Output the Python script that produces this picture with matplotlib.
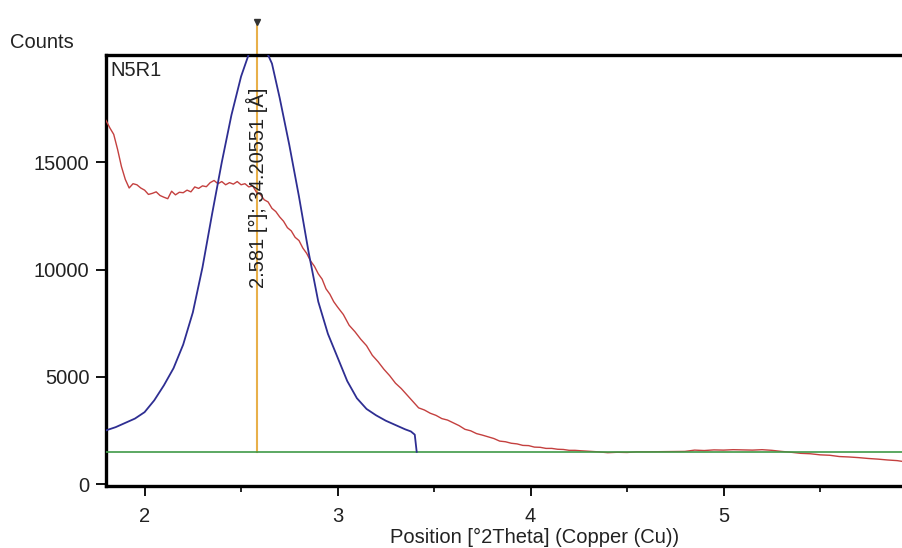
import matplotlib
matplotlib.use("Agg")
import matplotlib.pyplot as plt

plt.rcParams['font.family'] = ['Liberation Sans', 'DejaVu Sans']

# ---- data ----
red_x = [1.80, 1.82, 1.84, 1.86, 1.88, 1.90, 1.92, 1.94, 1.96, 1.98,
         2.00, 2.02, 2.04, 2.06, 2.08, 2.10, 2.12, 2.14, 2.16, 2.18,
         2.20, 2.22, 2.24, 2.26, 2.28, 2.30, 2.32, 2.34, 2.36, 2.38,
         2.40, 2.42, 2.44, 2.46, 2.48, 2.50, 2.52, 2.54, 2.56, 2.58,
         2.60, 2.62, 2.64, 2.66, 2.68, 2.70, 2.72, 2.74, 2.76, 2.78,
         2.80, 2.82, 2.84, 2.86, 2.88, 2.90, 2.92, 2.94, 2.96, 2.98,
         3.00, 3.03, 3.06, 3.09, 3.12, 3.15, 3.18, 3.21, 3.24, 3.27,
         3.30, 3.33, 3.36, 3.39, 3.42, 3.45, 3.48, 3.51, 3.54, 3.57,
         3.60, 3.63, 3.66, 3.69, 3.72, 3.75, 3.78, 3.81, 3.84, 3.87,
         3.90, 3.93, 3.96, 3.99, 4.02, 4.05, 4.08, 4.11, 4.14, 4.17,
         4.20, 4.23, 4.26, 4.30, 4.35, 4.40, 4.45, 4.50, 4.55, 4.60,
         4.70, 4.80, 4.85, 4.90, 4.95, 5.00, 5.05, 5.10, 5.15, 5.20,
         5.25, 5.30, 5.35, 5.40, 5.45, 5.50, 5.55, 5.60, 5.65, 5.70,
         5.75, 5.80, 5.85, 5.90, 5.93]
red_y = [16950, 16600, 16300, 15600, 14800, 14200, 13800, 14000, 13950, 13800,
         13700, 13500, 13550, 13620, 13450, 13370, 13300, 13650, 13480, 13600,
         13580, 13700, 13620, 13850, 13780, 13900, 13860, 14050, 14150, 14000,
         14100, 13950, 14050, 13980, 14100, 13950, 14000, 13850, 13900, 13600,
         13500, 13250, 13150, 12850, 12700, 12450, 12250, 11950, 11800, 11500,
         11350, 11000, 10750, 10400, 10150, 9800, 9550, 9100, 8850, 8500,
         8250, 7900, 7400, 7100, 6750, 6450, 6000, 5700, 5350, 5050,
         4700, 4450, 4150, 3850, 3550, 3450, 3300, 3200, 3050, 2980,
         2850, 2720, 2550, 2480, 2350, 2280, 2200, 2120, 2000, 1970,
         1900, 1870, 1800, 1790, 1720, 1710, 1660, 1660, 1620, 1610,
         1570, 1570, 1550, 1530, 1500, 1460, 1480, 1470, 1500, 1500,
         1510, 1520, 1580, 1560, 1590, 1580, 1600, 1590, 1580, 1600,
         1570, 1520, 1480, 1430, 1410, 1360, 1340, 1280, 1260, 1230,
         1190, 1160, 1120, 1090, 1050]

blue_x = [1.80, 1.85, 1.90, 1.95, 2.00, 2.05, 2.10, 2.15, 2.20, 2.25,
          2.30, 2.35, 2.40, 2.45, 2.50, 2.55, 2.58, 2.62, 2.66, 2.70,
          2.75, 2.80, 2.85, 2.90, 2.95, 3.00, 3.05, 3.10, 3.15, 3.20,
          3.25, 3.30, 3.35, 3.38, 3.40, 3.41]
blue_y = [2500, 2650, 2850, 3050, 3350, 3900, 4600, 5400, 6500, 8000,
          10100, 12600, 15000, 17200, 19000, 20300, 20600, 20400, 19600, 18000,
          15800, 13400, 10800, 8500, 7000, 5900, 4800, 4000, 3500, 3200,
          2950, 2750, 2550, 2450, 2300, 1500]

baseline = 1500
peak_pos = 2.581
peak_label = "2.581 [°]; 34.20551 [Å]"
sample = "N5R1"

x_ticks = [2, 3, 4, 5]
x_minor = [2.5, 3.5, 4.5, 5.5]
y_ticks = [0, 5000, 10000, 15000]

# ---- figure ----
fig = plt.figure(figsize=(9.03, 5.48), dpi=100)
ax = fig.add_axes([106 / 903, 1 - 486 / 548, 1 - 106 / 903, (486 - 55) / 548])

ax.set_xlim(1.8, 5.93)
ax.set_ylim(-93, 20000)

ax.plot(red_x, red_y, color='#c4403f', lw=1.0, zorder=3)
ax.axhline(baseline, color='#3f9a48', lw=1.2, zorder=4)
ax.plot(blue_x, blue_y, color='#2e2e92', lw=1.3, zorder=5)

# peak marker line
ax.plot([peak_pos, peak_pos], [baseline, 21450], color='#e8b04a', lw=1.5,
        clip_on=False, zorder=2)
ax.plot([peak_pos], [21550], marker='v', ms=4, color='#333333',
        clip_on=False, zorder=6)
ax.text(peak_pos, 9130, peak_label, rotation=90, ha='center', va='bottom',
        fontsize=14.5, color='#222222', zorder=7)

ax.text(0.006, 0.985, sample, transform=ax.transAxes, ha='left', va='top',
        fontsize=14.5, color='#222222')

for s in ['right']:
    ax.spines[s].set_visible(False)
for s in ['left', 'bottom', 'top']:
    ax.spines[s].set_linewidth(2.4)
    ax.spines[s].set_color('black')

ax.set_xticks(x_ticks)
ax.set_xticks(x_minor, minor=True)
ax.set_yticks(y_ticks)
ax.tick_params(axis='both', which='major', direction='out', length=7,
               width=1.3, labelsize=14.5, labelcolor='#222222')
ax.tick_params(axis='x', which='major', pad=8)
ax.tick_params(axis='y', which='major', pad=5)
ax.tick_params(axis='x', which='minor', direction='out', length=4, width=1.2)

ax.set_xlabel("Position [°2Theta] (Copper (Cu))", fontsize=14.5, color='#222222')
ax.xaxis.set_label_coords((535 - 106) / (903 - 106), -0.097)

fig.text(10 / 903, 1 - 42 / 548, "Counts", ha='left', va='center',
         fontsize=14.5, color='#222222')

fig.savefig("out.png", dpi=100)
